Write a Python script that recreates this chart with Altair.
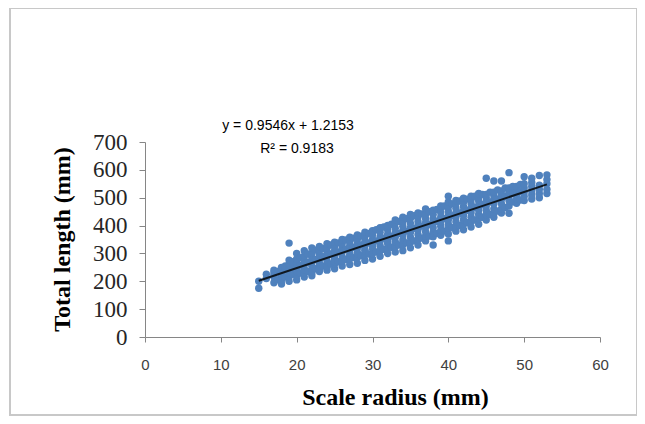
import altair as alt
import pandas as pd

# Scale radius (mm) -> observed total lengths (mm), read column by column
columns = {
    15: [175, 200],
    16: [210, 225],
    17: [195, 215, 230, 240, 220],
    17.5: [205, 235],
    18: [190, 205, 220, 235, 250, 225],
    18.5: [215, 240, 255],
    19: [200, 215, 230, 245, 260, 276, 337],
    19.5: [225, 250, 270],
    20: [205, 220, 235, 250, 265, 280, 300],
    20.5: [230, 258, 285],
    21: [215, 230, 245, 260, 275, 290, 310, 240],
    21.5: [235, 268, 298],
    22: [220, 238, 255, 270, 285, 300, 320, 230],
    22.5: [245, 278, 312],
    23: [235, 250, 265, 280, 295, 310, 325, 245],
    23.5: [255, 288, 318],
    24: [240, 258, 275, 290, 305, 320, 335, 250],
    24.5: [262, 298, 330],
    25: [245, 262, 280, 295, 310, 325, 340, 270],
    25.5: [270, 305, 338],
    26: [255, 272, 288, 305, 320, 335, 350],
    26.5: [278, 315, 348],
    27: [260, 280, 296, 312, 328, 342, 358, 290],
    27.5: [285, 322, 355],
    28: [265, 285, 302, 318, 334, 350, 366, 300],
    28.5: [292, 330, 362],
    29: [275, 295, 312, 328, 344, 360, 376, 310],
    29.5: [298, 338, 372],
    30: [280, 300, 318, 334, 350, 366, 382, 325],
    30.5: [305, 345, 385],
    31: [290, 310, 328, 344, 360, 376, 392],
    31.5: [315, 355, 395],
    32: [300, 318, 336, 352, 368, 384, 400, 345],
    32.5: [322, 362, 405],
    33: [305, 325, 342, 358, 374, 390, 408, 420],
    33.5: [330, 372, 415],
    34: [310, 330, 348, 365, 382, 398, 415, 430],
    34.5: [338, 380, 425],
    35: [320, 340, 358, 375, 392, 408, 425, 440],
    35.5: [345, 390, 435],
    36: [330, 350, 368, 385, 400, 415, 432, 445],
    36.5: [355, 398, 442],
    37: [345, 362, 378, 394, 410, 425, 440, 460],
    37.5: [362, 405, 450],
    38: [330, 360, 375, 392, 408, 424, 440, 455],
    38.5: [372, 415, 458],
    39: [365, 382, 398, 414, 430, 446, 462, 470],
    39.5: [380, 425, 470],
    40: [345, 370, 390, 405, 420, 436, 452, 468, 485, 505],
    40.5: [392, 435, 478],
    41: [380, 398, 414, 430, 446, 462, 478, 490],
    41.5: [400, 445, 488],
    42: [385, 405, 420, 436, 452, 468, 484, 498],
    42.5: [410, 455, 495],
    43: [395, 415, 430, 446, 462, 478, 492, 505],
    43.5: [420, 465, 505],
    44: [405, 425, 440, 456, 472, 488, 500, 515],
    44.5: [430, 475, 512],
    45: [420, 440, 455, 470, 486, 500, 512, 570],
    45.5: [440, 485, 520],
    46: [430, 445, 460, 478, 494, 508, 520, 560],
    46.5: [452, 495, 528],
    47: [445, 460, 478, 494, 510, 524, 560],
    47.5: [465, 505, 535],
    48: [444, 470, 490, 505, 520, 535, 590],
    48.5: [485, 515, 540],
    49: [480, 495, 510, 525, 540],
    49.5: [492, 522, 548],
    50: [490, 505, 520, 535, 550, 575],
    51: [495, 510, 525, 540, 555, 570],
    52: [500, 515, 530, 545, 580],
    53: [515, 530, 550, 565, 582],
}

x_ticks = [0, 10, 20, 30, 40, 50, 60]
y_ticks = [0, 100, 200, 300, 400, 500, 600, 700]
equation_lines = ["y = 0.9546x + 1.2153", "R² = 0.9183"]

radius = []
length = []
for r, vals in columns.items():
    for v in vals:
        radius.append(r)
        length.append(v)
df = pd.DataFrame({"radius": radius, "length": length})

x_enc = alt.X(
    "radius:Q",
    scale=alt.Scale(domain=[0, 60], nice=False, zero=False),
    axis=alt.Axis(
        values=x_ticks, title="Scale radius (mm)", grid=False,
        domainColor="#868686", tickColor="#868686", tickSize=5,
        labelFont="Liberation Sans", labelFontSize=15, labelColor="#404040",
        labelPadding=15, labelFlush=False, labelOverlap=False,
        titleFont="Liberation Serif", titleFontSize=24, titleFontWeight="bold",
        titleColor="#000000", titleX=250, titleY=60,
        titleBaseline="middle", titleAlign="center",
    ),
)
y_enc = alt.Y(
    "length:Q",
    scale=alt.Scale(domain=[0, 700], nice=False),
    axis=alt.Axis(
        values=y_ticks, title="Total length (mm)", grid=False,
        domainColor="#868686", tickColor="#868686", tickSize=6,
        labelFont="Liberation Serif", labelFontSize=23, labelColor="#262626",
        labelPadding=12, labelFlush=False, labelOverlap=False,
        titleFont="Liberation Serif", titleFontSize=24, titleFontWeight="bold",
        titleColor="#000000", titleX=-83, titleY=97,
        titleBaseline="middle", titleAlign="center", titleAngle=270,
    ),
)

points = alt.Chart(df).mark_circle(size=55, color="#4F81BD", opacity=1).encode(
    x=x_enc, y=y_enc
)

trend = (
    alt.Chart(df)
    .transform_regression("radius", "length")
    .mark_line(color="#101820", strokeWidth=2)
    .encode(x=x_enc, y=y_enc)
)

eq1 = alt.Chart(pd.DataFrame({"t": [equation_lines[0]]})).mark_text(
    font="Liberation Sans", fontSize=14, color="#000000", align="center", baseline="middle"
).encode(x=alt.value(143), y=alt.value(-16), text="t:N")

eq2 = alt.Chart(pd.DataFrame({"t": [equation_lines[1]]})).mark_text(
    font="Liberation Sans", fontSize=14, color="#000000", align="center", baseline="middle"
).encode(x=alt.value(152), y=alt.value(7), text="t:N")

frame = alt.Chart(pd.DataFrame({"a": [0]})).mark_rect(
    filled=False, stroke="#C8C8C8", strokeWidth=2
).encode(x=alt.value(-135), x2=alt.value(492), y=alt.value(-134), y2=alt.value(273))

chart = (
    alt.layer(frame, points, trend, eq1, eq2)
    .properties(
        width=455, height=195,
        autosize=alt.AutoSizeParams(type="none"),
        padding={"left": 137, "top": 134, "right": 37, "bottom": 79},
        background="white",
    )
    .configure_view(stroke=None)
)

chart.save("out.html", embed_options={"renderer": "svg", "actions": False})
